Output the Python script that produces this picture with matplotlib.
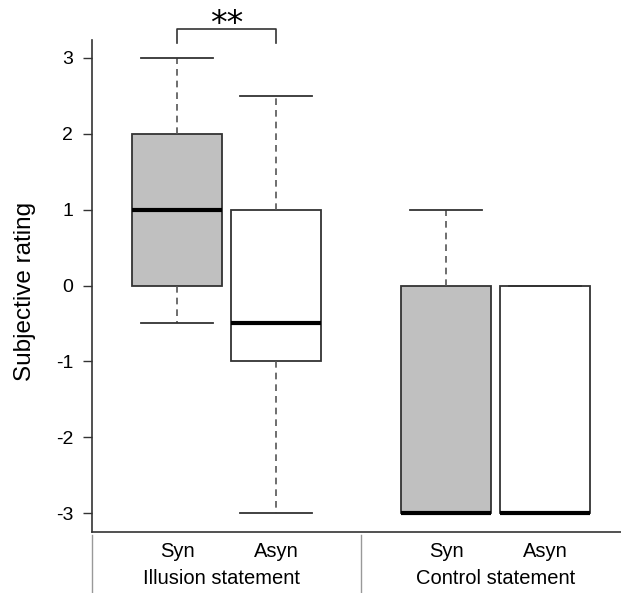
import matplotlib
matplotlib.use("Agg")
import matplotlib.pyplot as plt
import matplotlib.transforms as mtransforms

plt.rcParams['font.family'] = ['Liberation Sans', 'DejaVu Sans']
plt.rcParams['axes.unicode_minus'] = False

# data
labels = ["Syn", "Asyn", "Syn", "Asyn"]
groups = ["Illusion statement", "Control statement"]
whislo = [-0.5, -3, -3, -3]
q1 = [0, -1, -3, -3]
med = [1, -0.5, -3, -3]
q3 = [2, 1, 0, 0]
whishi = [3, 2.5, 1, 0]
fills = ["#c0c0c0", "white", "#c0c0c0", "white"]
positions = [1, 2, 3.717, 4.717]

stats = []
for i in range(4):
    stats.append({"whislo": whislo[i], "q1": q1[i], "med": med[i],
                  "q3": q3[i], "whishi": whishi[i], "fliers": []})

fig = plt.figure(figsize=(6.21, 5.93), dpi=100)
ax = fig.add_axes([92/621, 61/593, 529/621, 492/593])

bp = ax.bxp(stats, positions=positions, widths=0.9, capwidths=0.73,
            patch_artist=True, showfliers=False,
            boxprops=dict(edgecolor="#333333", linewidth=1.3),
            whiskerprops=dict(color="#555555", linewidth=1.2, dashes=(4, 3)),
            capprops=dict(color="#333333", linewidth=1.3),
            medianprops=dict(color="black", linewidth=3, solid_capstyle="butt"))
for box, c in zip(bp["boxes"], fills):
    box.set_facecolor(c)

ax.set_xlim(0.141, 5.485)
ax.set_ylim(-3.25, 3.237)
ax.spines["top"].set_visible(False)
ax.spines["right"].set_visible(False)
for s in ["left", "bottom"]:
    ax.spines[s].set_color("#333333")
    ax.spines[s].set_linewidth(1.2)

ax.set_yticks([3, 2, 1, 0, -1, -2, -3])
ax.tick_params(axis="y", labelsize=14, length=6.5, width=1.0, color="#333333", pad=7)
ax.set_xticks(positions)
ax.set_xticklabels(labels, fontsize=14.5)
ax.tick_params(axis="x", length=0, pad=7)
ax.set_ylabel("Subjective rating", fontsize=17.5)
ax.yaxis.set_label_coords(-0.106, 0.488)

# group labels and separators below the axis
trans = mtransforms.blended_transform_factory(ax.transData, ax.transAxes)
ax.text((positions[0] + positions[1]) / 2 - 0.05, -0.094, groups[0], transform=trans,
        ha="center", va="center", fontsize=14.5)
ax.text((positions[2] + positions[3]) / 2, -0.094, groups[1], transform=trans,
        ha="center", va="center", fontsize=14.5)
sep = (positions[1] + positions[2]) / 2
for xs in [0.141, sep]:
    ax.plot([xs, xs], [-0.006, -0.13], transform=trans, color="#999999",
            linewidth=1.0, clip_on=False)

# significance bracket
ax.plot([positions[0], positions[0], positions[1], positions[1]],
        [3.2, 3.38, 3.38, 3.2], color="#333333", linewidth=1.2, clip_on=False)
ax.text((positions[0] + positions[1]) / 2, 3.44, "**", ha="center", va="center",
        fontsize=24, family="DejaVu Sans", clip_on=False)

fig.savefig("out.png", dpi=100)
